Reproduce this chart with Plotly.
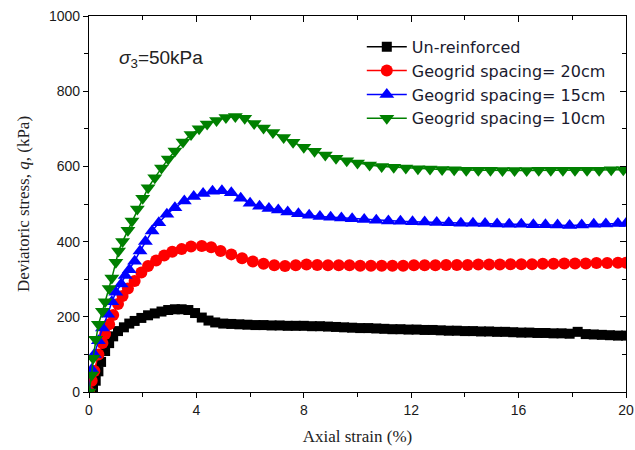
import plotly.graph_objects as go

# ---- data ----
strain_un = [0, 0.15, 0.25, 0.35, 0.45, 0.6, 0.75, 0.9, 1.08, 1.3, 1.5, 1.7, 1.95, 2.2, 2.45, 2.7, 2.95, 3.2,
             3.45, 3.7, 3.95, 4.2, 4.45, 4.7, 5.0, 5.3, 5.6, 5.9, 6.2, 6.5, 6.8, 7.1, 7.4, 7.7, 8.0, 8.3,
             8.6, 8.9, 9.2, 9.5, 9.8, 10.1, 10.4, 10.7, 11.0, 11.3, 11.6, 11.9, 12.2, 12.5, 12.8, 13.1,
             13.4, 13.7, 14.0, 14.3, 14.6, 14.9, 15.2, 15.5, 15.8, 16.1, 16.4, 16.7, 17.0, 17.3, 17.6,
             17.9, 18.2, 18.5, 18.8, 19.1, 19.4, 19.7, 20.0]
q_un = [0, 10, 30, 55, 80, 109, 130, 148, 162, 172, 182, 189, 197, 204, 209, 214, 218, 220,
        220, 218, 210, 198, 190, 185, 182, 181, 180, 179, 178, 178, 177, 177, 176, 176, 176, 175,
        175, 174, 173, 172, 171, 170, 170, 169, 168, 167, 167, 166, 166, 165, 165, 164,
        163, 163, 162, 162, 161, 161, 160, 160, 159, 158, 158, 157, 157, 156, 156,
        155, 160, 154, 153, 152, 151, 150, 150]

strain_20 = [0, 0.1, 0.2, 0.35, 0.5, 0.6, 0.75, 0.9, 1.08, 1.25, 1.45, 1.7, 1.95, 2.2, 2.5, 2.8, 3.1,
             3.45, 3.8, 4.2, 4.55, 4.9, 5.3, 5.7, 6.1, 6.5, 6.9, 7.3, 7.7, 8.1, 8.5, 8.9, 9.3, 9.7,
             10.1, 10.5, 10.9, 11.3, 11.7, 12.1, 12.5, 12.9, 13.3, 13.7, 14.1, 14.5, 14.9, 15.3,
             15.7, 16.1, 16.5, 16.9, 17.3, 17.7, 18.1, 18.5, 18.9, 19.3, 19.7, 20.0]
q_20 = [0, 30, 56, 100, 130, 154, 180, 205, 234, 255, 275, 295, 318, 335, 350, 363, 373,
        380, 387, 388, 385, 375, 366, 356, 347, 341, 337, 335, 337, 339, 338, 337, 337, 337,
        336, 336, 336, 336, 336, 337, 337, 337, 338, 338, 338, 339, 339, 339,
        340, 340, 340, 341, 341, 342, 342, 342, 343, 343, 344, 344]

strain_15 = [0, 0.1, 0.2, 0.35, 0.5, 0.7, 0.85, 1.0, 1.2, 1.35, 1.5, 1.7, 1.9, 2.1, 2.35, 2.6, 2.9,
             3.2, 3.55, 3.9, 4.25, 4.6, 4.95, 5.3, 5.65, 6.0, 6.35, 6.7, 7.05, 7.4, 7.8, 8.2, 8.6,
             9.0, 9.4, 9.8, 10.25, 10.7, 11.15, 11.6, 12.05, 12.5, 12.95, 13.4, 13.85, 14.3, 14.75,
             15.2, 15.65, 16.1, 16.55, 17.0, 17.45, 17.9, 18.35, 18.8, 19.25, 19.7, 20.0]
q_15 = [0, 60, 100, 136, 170, 207, 240, 265, 287, 310, 325, 348, 375, 400, 428, 450, 473,
        490, 508, 520, 528, 534, 535, 530, 515, 502, 494, 488, 484, 479, 474, 470, 467,
        465, 463, 461, 459, 457, 455, 454, 453, 452, 451, 450, 449, 449, 448,
        447, 446, 446, 445, 445, 444, 443, 444, 446, 447, 448, 448]

strain_10 = [0, 0.1, 0.15, 0.25, 0.35, 0.5, 0.6, 0.75, 0.85, 1.0, 1.1, 1.25, 1.45, 1.6, 1.8, 2.0, 2.2,
             2.45, 2.7, 2.95, 3.2, 3.5, 3.8, 4.1, 4.4, 4.75, 5.1, 5.45, 5.8, 6.15, 6.5, 6.85, 7.25,
             7.6, 8.0, 8.4, 8.8, 9.2, 9.6, 10.0, 10.45, 10.9, 11.35, 11.8, 12.25, 12.7, 13.15, 13.6,
             14.05, 14.5, 14.95, 15.4, 15.85, 16.3, 16.75, 17.2, 17.65, 18.1, 18.55, 19.0, 19.45, 19.9]
q_10 = [0, 45, 90, 140, 180, 215, 240, 275, 303, 345, 375, 400, 430, 455, 487, 515, 543,
        570, 596, 620, 641, 665, 685, 700, 713, 722, 730, 733, 728, 714, 702, 690, 677,
        664, 651, 640, 630, 622, 615, 609, 604, 600, 598, 596, 594, 593, 592, 591,
        590, 590, 590, 589, 589, 589, 590, 590, 590, 590, 590, 590, 591, 591]

series = [
    ("Un-reinforced", strain_un, q_un, "black", "square", 10),
    ("Geogrid spacing= 20cm", strain_20, q_20, "red", "circle", 12),
    ("Geogrid spacing= 15cm", strain_15, q_15, "blue", "triangle-up", 13),
    ("Geogrid spacing= 10cm", strain_10, q_10, "green", "triangle-down", 13),
]

fig = go.Figure()
for name, x, y, col, sym, size in series:
    fig.add_trace(go.Scatter(
        x=x, y=y, name=name, mode="lines+markers",
        line=dict(color=col, width=1.5),
        marker=dict(color=col, symbol=sym, size=size, line=dict(width=0)),
    ))

axis_font = dict(family="Liberation Sans, Arial", size=14, color="#1a1a1a")
title_font = dict(family="Liberation Serif, Times New Roman", size=17, color="#222")
fig.update_layout(
    width=635, height=450,
    margin=dict(l=89, r=9, t=16, b=58, autoexpand=False),
    plot_bgcolor="white", paper_bgcolor="white",
    showlegend=True,
    legend=dict(x=0.508, y=0.963, xanchor="left", yanchor="top",
                bgcolor="rgba(0,0,0,0)",
                font=dict(family="DejaVu Sans, sans-serif", size=16, color="#1a1a2e"),
                tracegroupgap=0, itemwidth=40),
    xaxis=dict(range=[0, 20], tickvals=[0, 4, 8, 12, 16, 20], ticks="outside", ticklen=5,
               tickwidth=1.2, tickcolor="black",
               minor=dict(ticks="outside", ticklen=4, dtick=2, tickcolor="black", showgrid=False),
               showline=True, linecolor="black", linewidth=1.2, showgrid=False, zeroline=False,
               tickfont=axis_font,
               title=dict(text="Axial strain (%)", font=title_font, standoff=13)),
    yaxis=dict(range=[0, 1000], tickvals=[0, 200, 400, 600, 800, 1000], ticks="outside", ticklen=5,
               tickwidth=1.2, tickcolor="black",
               minor=dict(ticks="outside", ticklen=4, dtick=100, tickcolor="black", showgrid=False),
               showline=True, linecolor="black", linewidth=1.2, showgrid=False, zeroline=False,
               tickfont=axis_font,
               title=dict(text="Deviatoric stress, <i>q</i>, (kPa)", font=title_font, standoff=14)),
    xaxis2=dict(range=[0, 20], overlaying="x", side="top", showticklabels=False, tickvals=[0, 4, 8, 12, 16, 20],
                ticks="inside", ticklen=6, tickcolor="black",
                minor=dict(ticks="inside", ticklen=4, dtick=2, tickcolor="black"),
                showline=True, linecolor="black", linewidth=1.2, showgrid=False, zeroline=False),
    yaxis2=dict(range=[0, 1000], overlaying="y", side="right", showticklabels=False,
                tickvals=[0, 200, 400, 600, 800, 1000],
                ticks="inside", ticklen=6, tickcolor="black",
                minor=dict(ticks="inside", ticklen=4, dtick=100, tickcolor="black"),
                showline=True, linecolor="black", linewidth=1.2, showgrid=False, zeroline=False),
)
fig.add_trace(go.Scatter(x=[None], y=[None], xaxis="x2", yaxis="y2", showlegend=False, hoverinfo="skip"))

fig.add_annotation(x=0.053, y=0.922, xref="paper", yref="paper", xanchor="left", yanchor="top",
                   text="<i>σ</i><sub>3</sub>=50kPa", showarrow=False,
                   font=dict(family="Liberation Sans, Arial", size=19, color="#222"))

fig.write_html("out.html")
